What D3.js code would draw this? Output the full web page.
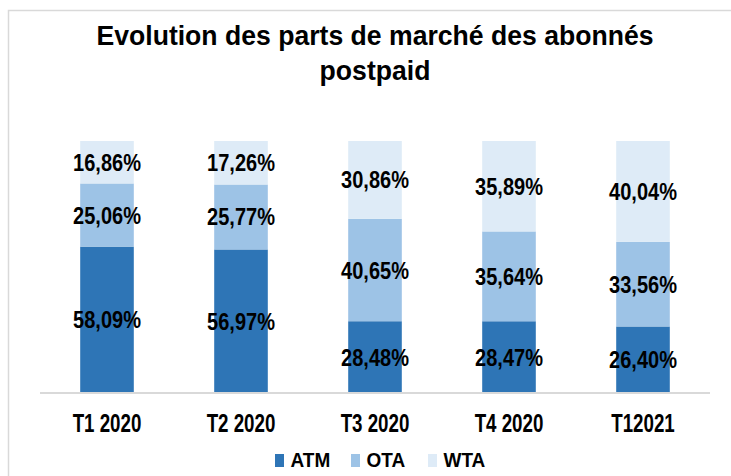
<!DOCTYPE html>
<html><head><meta charset="utf-8">
<script src="https://cdn.jsdelivr.net/npm/d3@7"></script>
<style>body{margin:0;background:#fff}svg{display:block}text{font-family:"Liberation Sans Narrow","Arial Narrow","Liberation Sans",Arial,sans-serif;font-weight:bold}</style>
</head><body>
<svg id="c" width="731" height="476"></svg>
<script>
const categories = ["T1 2020","T2 2020","T3 2020","T4 2020","T12021"];
const seriesNames = ["ATM","OTA","WTA"];
const ATM = [58.09,56.97,28.48,28.47,26.40];
const OTA = [25.06,25.77,40.65,35.64,33.56];
const WTA = [16.86,17.26,30.86,35.89,40.04];
const colors = ["#2E75B6","#9DC3E6","#DEEBF7"];

function condense(sel, s){
  sel.each(function(){
    const t=d3.select(this); const x=+t.attr("x")||0, y=+t.attr("y")||0;
    t.attr("x",0).attr("y",0).attr("transform",`translate(${x},${y}) scale(${s},1)`);
  });
}

const svg = d3.select("#c");
svg.append("rect").attr("x",8.5).attr("y",10.5).attr("width",740).attr("height",480)
  .attr("fill","#fff").attr("stroke","#d9d9d9").attr("stroke-width",1.5);

const x = d3.scaleBand().domain(categories).range([40,710]).paddingInner(0.6).paddingOuter(0.3);
const y = d3.scaleLinear().domain([0,100]).range([393,141]);

const rows = categories.map((c,i)=>({cat:c,ATM:ATM[i],OTA:OTA[i],WTA:WTA[i]}));
const stack = d3.stack().keys(seriesNames)(rows);

const g = svg.append("g");
stack.forEach((s,si)=>{
  g.selectAll(null).data(s).enter().append("rect")
    .attr("x",d=>x(d.data.cat)).attr("width",x.bandwidth())
    .attr("y",d=>y(d[1])).attr("height",d=>y(d[0])-y(d[1]))
    .attr("fill",colors[si]);
  const lbl = g.selectAll(null).data(s).enter().append("text")
    .attr("x",d=>x(d.data.cat)+x.bandwidth()/2)
    .attr("y",d=>(y(d[0])+y(d[1]))/2+8.5)
    .attr("text-anchor","middle")
    .attr("font-size",23).attr("fill","#000")
    .text(d=>d3.format(".2f")(d[1]-d[0]).replace(".",",")+"%");
  condense(lbl, 0.87);
});

const xAxis = svg.append("g").attr("transform","translate(0,393)")
  .call(d3.axisBottom(x).tickSize(0).tickPadding(21));
xAxis.select(".domain").attr("stroke","#d9d9d9").attr("stroke-width",2).attr("d","M40,0H710");
xAxis.selectAll("text").attr("font-size",25).attr("fill","#000")
  .attr("font-family","Liberation Sans Narrow, Arial Narrow, Liberation Sans, Arial, sans-serif").attr("font-weight","bold")
  .attr("dy","0.71em")
  .attr("transform","scale(0.75,1)");

const t1 = svg.append("text").attr("x",375).attr("y",45).attr("text-anchor","middle").attr("font-size",28).text("Evolution des parts de marché des abonnés");
const t2 = svg.append("text").attr("x",375).attr("y",80).attr("text-anchor","middle").attr("font-size",28).text("postpaid");
condense(t1, 0.95); condense(t2, 0.95);

const legX = [275,351,428];
const leg = svg.append("g");
seriesNames.forEach((n,i)=>{
  leg.append("rect").attr("x",legX[i]).attr("y",454).attr("width",9).attr("height",13).attr("fill",colors[i]);
  const lt = leg.append("text").attr("x",legX[i]+15.5).attr("y",467).attr("font-size",20).attr("fill","#000").text(n);
  condense(lt, 0.95);
});
</script>
</body></html>
